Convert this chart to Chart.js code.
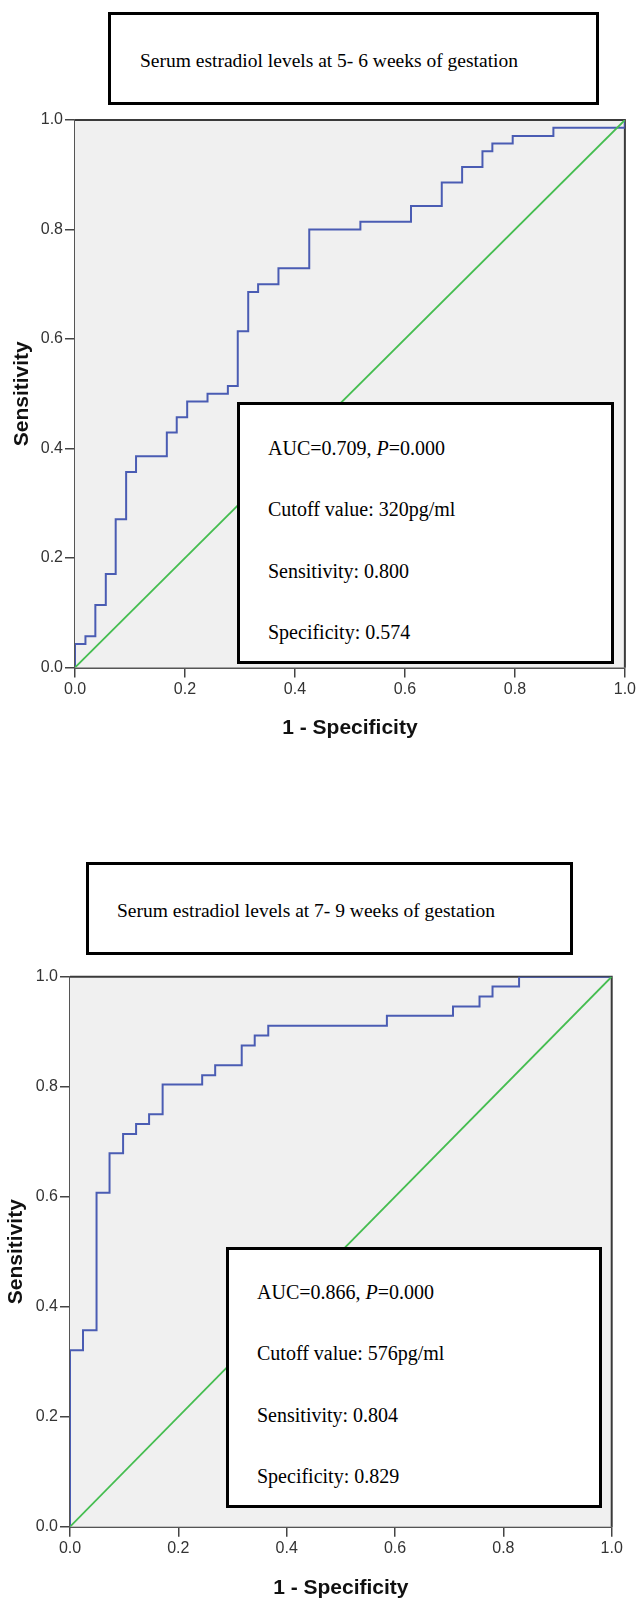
<!DOCTYPE html>
<html>
<head>
<meta charset="utf-8">
<script src="https://cdn.jsdelivr.net/npm/chart.js@4.4.0/dist/chart.umd.min.js"></script>
<style>
  html, body { margin: 0; padding: 0; background: #fff; }
  body { position: relative; width: 638px; height: 1603px; overflow: hidden; }
  canvas { position: absolute; left: 0; }
  .box { position: absolute; border: 3px solid #000; background: #fff; box-sizing: border-box;
         font-family: "Liberation Serif", "Times New Roman", serif; color: #000; white-space: nowrap; }
  .title span { position: absolute; font-size: 19.5px; line-height: 1; }
  .auc { font-size: 20px; line-height: 61.3px; }
</style>
</head>
<body>
<canvas id="roc1" width="638" height="760" style="top:0px"></canvas>
<canvas id="roc2" width="638" height="823" style="top:780px"></canvas>

<div class="box title" style="left:108px;top:12px;width:491px;height:93px">
  <span style="left:29px;top:36px">Serum estradiol levels at 5- 6 weeks of gestation</span>
</div>
<div class="box auc" style="left:237px;top:402px;width:377px;height:262px;padding:13px 0 0 28px">
  <div>AUC=0.709, <i>P</i>=0.000</div>
  <div>Cutoff value: 320pg/ml</div>
  <div>Sensitivity: 0.800</div>
  <div>Specificity: 0.574</div>
</div>

<div class="box title" style="left:86px;top:862px;width:487px;height:93px">
  <span style="left:28px;top:36px">Serum estradiol levels at 7- 9 weeks of gestation</span>
</div>
<div class="box auc" style="left:226px;top:1247px;width:376px;height:261px;padding:12px 0 0 28px">
  <div>AUC=0.866, <i>P</i>=0.000</div>
  <div>Cutoff value: 576pg/ml</div>
  <div>Sensitivity: 0.804</div>
  <div>Specificity: 0.829</div>
</div>

<script>
// ROC corner points, 5-6 weeks
const fpr1 = [0, 0, 0.019, 0.037, 0.056, 0.074, 0.093, 0.111, 0.167, 0.185, 0.204, 0.241, 0.278, 0.296,
              0.315, 0.333, 0.370, 0.426, 0.519, 0.611, 0.667, 0.704, 0.741, 0.759, 0.796, 0.870, 1.0, 1.0];
const tpr1 = [0, 0.043, 0.057, 0.114, 0.171, 0.271, 0.357, 0.386, 0.429, 0.457, 0.486, 0.500, 0.514, 0.614,
              0.686, 0.700, 0.729, 0.800, 0.814, 0.843, 0.886, 0.914, 0.943, 0.957, 0.971, 0.986, 0.986, 1.0];

// ROC corner points, 7-9 weeks
const fpr2 = [0, 0, 0.024, 0.049, 0.073, 0.098, 0.122, 0.146, 0.171, 0.244, 0.268, 0.317, 0.341, 0.366,
              0.585, 0.707, 0.756, 0.780, 0.829, 1.0];
const tpr2 = [0, 0.321, 0.357, 0.607, 0.679, 0.714, 0.732, 0.750, 0.804, 0.821, 0.839, 0.875, 0.893, 0.911,
              0.929, 0.946, 0.964, 0.982, 1.0, 1.0];

// reference line
const refX = [0, 1];
const refY = [0, 1];

const tickValues = [0, 0.2, 0.4, 0.6, 0.8, 1.0];

Chart.defaults.font.family = '"Liberation Sans", Arial, sans-serif';

// plot background + top/right frame
const plotFrame = {
  id: 'plotFrame',
  beforeDatasetsDraw(chart) {
    const { ctx, chartArea: a } = chart;
    ctx.save();
    ctx.fillStyle = '#f0f0f0';
    ctx.fillRect(a.left, a.top, a.right - a.left, a.bottom - a.top);
    ctx.lineWidth = 2;
    ctx.strokeStyle = '#3a3a3a';
    ctx.beginPath();
    ctx.moveTo(a.left, a.top);
    ctx.lineTo(a.right, a.top);
    ctx.lineTo(a.right, a.bottom);
    ctx.stroke();
    ctx.restore();
  }
};

function scaleOpts(title, isX, g) {
  return {
    type: 'linear',
    min: 0,
    max: 1,
    afterBuildTicks: s => { s.ticks = tickValues.map(v => ({ value: v })); },
    afterFit: s => { if (isX) s.height = g.xh; else s.width = g.yw; },
    ticks: {
      callback: v => v.toFixed(1),
      color: '#333',
      font: { size: 16 },
      padding: 2,
      maxRotation: 0,
      autoSkip: false
    },
    grid: { drawOnChartArea: false, drawTicks: true, tickLength: 10, color: '#444', lineWidth: 1.5 },
    border: { display: true, color: '#555', width: 2 },
    title: {
      display: true,
      text: title,
      color: '#111',
      font: { size: 21, weight: 'bold' },
      padding: isX ? { top: 0, bottom: g.xtpad } : { top: g.ytpad, bottom: 0 }
    }
  };
}

function makeRoc(id, fpr, tpr, g) {
  const ctx = document.getElementById(id).getContext('2d');
  return new Chart(ctx, {
    type: 'scatter',
    data: {
      datasets: [
        {
          data: refX.map((x, i) => ({ x: x, y: refY[i] })),
          showLine: true,
          borderColor: '#45bd50',
          borderWidth: 1.8,
          pointRadius: 0
        },
        {
          data: fpr.map((x, i) => ({ x: x, y: tpr[i] })),
          showLine: true,
          stepped: 'before',
          borderColor: '#4a5cb3',
          borderWidth: 2,
          pointRadius: 0
        }
      ]
    },
    options: {
      responsive: false,
      animation: false,
      layout: { padding: g.pad },
      plugins: { legend: { display: false }, tooltip: { enabled: false } },
      scales: {
        x: scaleOpts('1 - Specificity', true, g),
        y: scaleOpts('Sensitivity', false, g)
      }
    },
    plugins: [plotFrame]
  });
}

makeRoc('roc1', fpr1, tpr1, {
  pad: { top: 120, right: 13, left: 0, bottom: 0 },
  yw: 75, xh: 92.5, xtpad: 19, ytpad: 9.5
});

makeRoc('roc2', fpr2, tpr2, {
  pad: { top: 196.7, right: 26.3, left: 0, bottom: 0 },
  yw: 70, xh: 76.3, xtpad: 2, ytpad: 4
});
</script>
</body>
</html>
